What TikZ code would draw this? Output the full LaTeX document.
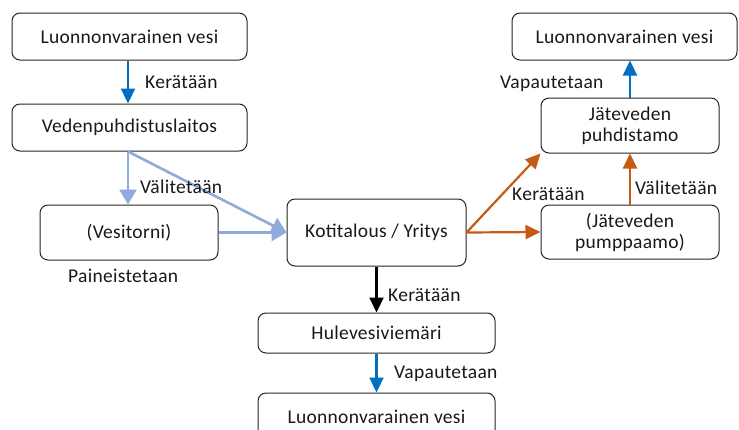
\documentclass[tikz,border=0pt]{standalone}
\usepackage{fontspec}
\setmainfont{Carlito}[LetterSpace=1.5]
\usetikzlibrary{arrows.meta}
\definecolor{darkblue}{HTML}{0070C0}
\definecolor{lightblue}{HTML}{8FAADC}
\definecolor{rust}{HTML}{C55A11}
\begin{document}
\begin{tikzpicture}[x=1pt,y=-1pt,
  every node/.style={font=\fontsize{19.5}{22}\selectfont, text=black!90},
  box/.style={draw=black!85, line width=1pt, rounded corners=8pt, align=center, inner sep=0pt},
  lbl/.style={anchor=west, inner sep=0pt},
  flow/.style={line width=2.2pt},
  supply/.style={flow, draw=darkblue, -{Triangle[length=15pt,width=14pt,fill=darkblue]}},
  mains/.style={line width=2.6pt, draw=lightblue, -{Triangle[length=15pt,width=17pt,fill=lightblue]}},
  sewer/.style={flow, draw=rust, -{Triangle[length=15pt,width=14pt,fill=rust]}},
  storm/.style={flow, draw=black, -{Triangle[length=15pt,width=14pt,fill=black]}}]
\useasboundingbox (0,0) rectangle (739,429);
\fill[white] (0,0) rectangle (739,429);

% water supply side
\node[box, minimum width=235pt, minimum height=47pt] (src) at (129.5,36.5) {Luonnonvarainen vesi};
\node[box, minimum width=235pt, minimum height=47pt] (plant) at (129.5,127.5) {Vedenpuhdistuslaitos};
\node[box, minimum width=178pt, minimum height=55pt] (tower) at (129,232.5) {(Vesitorni)};
\node[box, minimum width=179pt, minimum height=67pt] (home) at (376.5,232.5) {Kotitalous / Yritys};

% storm water branch
\node[box, minimum width=237pt, minimum height=40pt] (storm) at (376.5,333) {Hulevesiviemäri};
\node[box, minimum width=237pt, minimum height=47pt] (out1) at (376.5,416.5) {Luonnonvarainen vesi};

% waste water branch
\node[box, minimum width=225pt, minimum height=47pt] (out2) at (624.5,36.5) {Luonnonvarainen vesi};
\node[box, minimum width=178pt, minimum height=55pt] (wwtp) at (630,125.5) {Jäteveden\\[-1pt]puhdistamo};
\node[box, minimum width=178pt, minimum height=54pt] (pump) at (630,232) {(Jäteveden\\[-1pt]pumppaamo)};

% connectors
\draw[supply] (src.south -| 128,0) -- (plant.north -| 128,0);
\draw[mains] (plant.south -| 128,0) -- (tower.north -| 128,0);
\draw[mains] (plant.south -| 128,0) -- (home.west);
\draw[mains] (tower.east) -- (home.west);
\draw[storm] (home.south) -- (storm.north);
\draw[supply] (storm.south) -- (out1.north);
\draw[sewer] (home.east) -- (wwtp.south west);
\draw[sewer] (home.east) -- (pump.west);
\draw[sewer] (pump.north) -- (wwtp.south);
\draw[supply] (wwtp.north) -- (wwtp.north |- out2.south);

% labels
\node[lbl] (l1) at (145,82) {Kerätään};
\node[lbl] (l2) at (140,187) {Välitetään};
\node[lbl] (l3) at (68,276) {Paineistetaan};
\node[lbl] (l4) at (388,295) {Kerätään};
\node[lbl] (l5) at (394,374) {Vapautetaan};
\node[lbl] (l6) at (512,194) {Kerätään};
\node[lbl] (l7) at (635,188) {Välitetään};
\node[lbl] (l8) at (500,84) {Vapautetaan};
\end{tikzpicture}
\end{document}
